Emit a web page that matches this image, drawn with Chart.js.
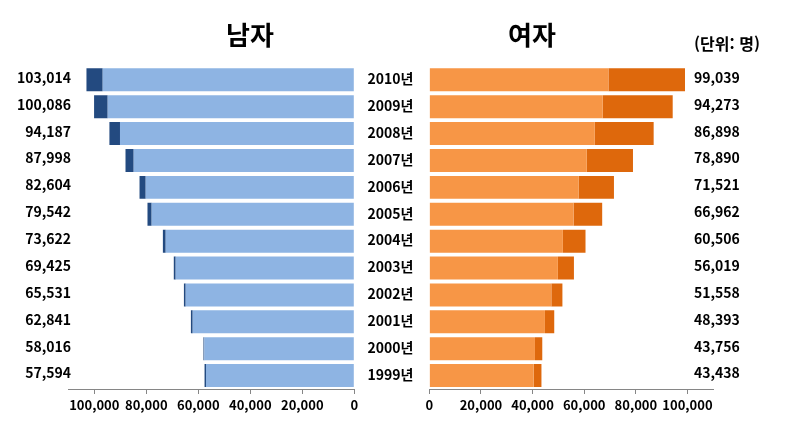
<!DOCTYPE html>
<html lang="ko">
<head>
<meta charset="utf-8">
<title>남자 / 여자</title>
<script src="https://cdn.jsdelivr.net/npm/chart.js@4/dist/chart.umd.min.js"></script>
<style>
    body { margin: 0; background: #fff; }
    #wrap { position: relative; width: 786px; height: 442px; overflow: hidden; font-family: "Noto Sans CJK KR", "Noto Sans", sans-serif; }
    #maleChart { position: absolute; left: 0; top: 0; }
    #femaleChart { position: absolute; left: 362px; top: 0; }
    .title { position: absolute; font-weight: bold; color: #000; white-space: nowrap; transform: translateX(-50%); }
    .big { font-size: 26px; line-height: 26px; top: 21px; }
    .unit { font-size: 16px; line-height: 16px; top: 35px; }
</style>
</head>
<body>
<div id="wrap">
    <canvas id="maleChart" width="362" height="442"></canvas>
    <canvas id="femaleChart" width="424" height="442"></canvas>
    <div class="title big" style="left:250px">남자</div>
    <div class="title big" style="left:532px">여자</div>
    <div class="title unit" style="left:727px">(단위: 명)</div>
</div>
<script>
// years run bottom (1999) to top (2010)
const years = ['1999년', '2000년', '2001년', '2002년', '2003년', '2004년', '2005년', '2006년', '2007년', '2008년', '2009년', '2010년'];

const maleTotals = [57594, 58016, 62841, 65531, 69425, 73622, 79542, 82604, 87998, 94187, 100086, 103014];
const maleBase = [57040, 57690, 62150, 64850, 68700, 72540, 77940, 80230, 84850, 90120, 94850, 96770];
const maleExtra = [554, 326, 691, 681, 725, 1082, 1602, 2374, 3148, 4067, 5236, 6244];

const femaleTotals = [43438, 43756, 48393, 51558, 56019, 60506, 66962, 71521, 78890, 86898, 94273, 99039];
const femaleBase = [40420, 40930, 44790, 47260, 49800, 51740, 55870, 57800, 61000, 64100, 67180, 69380];
const femaleExtra = [3018, 2826, 3603, 4298, 6219, 8766, 11092, 13721, 17890, 22798, 27093, 29659];

const tickValues = [0, 20000, 40000, 60000, 80000, 100000];
const axisMax = 110000;

const FONT = '"Noto Sans CJK KR", "Noto Sans", sans-serif';
const fmt = v => Number(v).toLocaleString('en-US');

// total labels beside the bars, placed on the category scale
const sideLabels = {
    id: 'sideLabels',
    afterDraw(chart, args, opts) {
        const ctx = chart.ctx;
        const yScale = chart.scales.y;
        ctx.save();
        ctx.font = 'bold 14px ' + FONT;
        ctx.fillStyle = '#000';
        ctx.textAlign = opts.align;
        ctx.textBaseline = 'middle';
        opts.values.forEach((v, i) => {
            ctx.fillText(fmt(v), opts.x, yScale.getPixelForValue(i) + opts.offset);
        });
        ctx.restore();
    }
};

function xAxis(reverse) {
    return {
        stacked: true,
        reverse: reverse,
        min: 0,
        max: axisMax,
        afterFit: s => { s.height = 53; },
        afterBuildTicks: s => { s.ticks = tickValues.map(v => ({ value: v })); },
        ticks: {
            padding: 3,
            maxRotation: 0,
            minRotation: 0,
            autoSkip: false,
            color: '#000',
            font: { family: FONT, size: 13, weight: 'bold' },
            callback: v => fmt(v)
        },
        grid: { display: true, drawOnChartArea: false, drawTicks: true, tickLength: 5, color: '#868686' },
        border: { display: true, color: '#868686', width: 1 }
    };
}

function buildChart(id, base, extra, colors, yAxis, padding, labelOpts) {
    const ctx = document.getElementById(id);
    return new Chart(ctx, {
        type: 'bar',
        data: {
            labels: years,
            datasets: [
                { data: base, backgroundColor: colors[0], borderWidth: 0, barPercentage: 0.855, categoryPercentage: 1 },
                { data: extra, backgroundColor: colors[1], borderWidth: 0, barPercentage: 0.855, categoryPercentage: 1 }
            ]
        },
        options: {
            indexAxis: 'y',
            responsive: false,
            animation: false,
            devicePixelRatio: 1,
            layout: { padding: padding },
            plugins: {
                legend: { display: false },
                tooltip: { enabled: false },
                title: { display: false },
                sideLabels: labelOpts
            },
            scales: { x: xAxis(id === 'maleChart'), y: yAxis }
        },
        plugins: [sideLabels]
    });
}

// 남자: reversed axis, totals on the left
buildChart('maleChart', maleBase, maleExtra, ['rgb(142,180,227)', 'rgb(35,74,128)'], {
    stacked: true,
    reverse: true,
    display: false
}, { top: 66.4, right: 7.7, bottom: 0, left: 68.3 },
{ values: maleTotals, x: 71, align: 'right', offset: -2.4 });

// 여자: year labels on the left, totals on the right
buildChart('femaleChart', femaleBase, femaleExtra, ['rgb(247,150,70)', 'rgb(222,104,12)'], {
    stacked: true,
    reverse: true,
    position: 'left',
    afterFit: s => { s.width = 67.3; },
    grid: { display: false, drawTicks: false },
    border: { display: false },
    ticks: {
        padding: 16,
        labelOffset: -1,
        color: '#000',
        font: { family: FONT, size: 14, weight: 'bold' }
    }
}, { top: 66.4, right: 72.7, bottom: 0, left: 0 },
{ values: femaleTotals, x: 332, align: 'left', offset: -2.4 });
</script>
</body>
</html>
